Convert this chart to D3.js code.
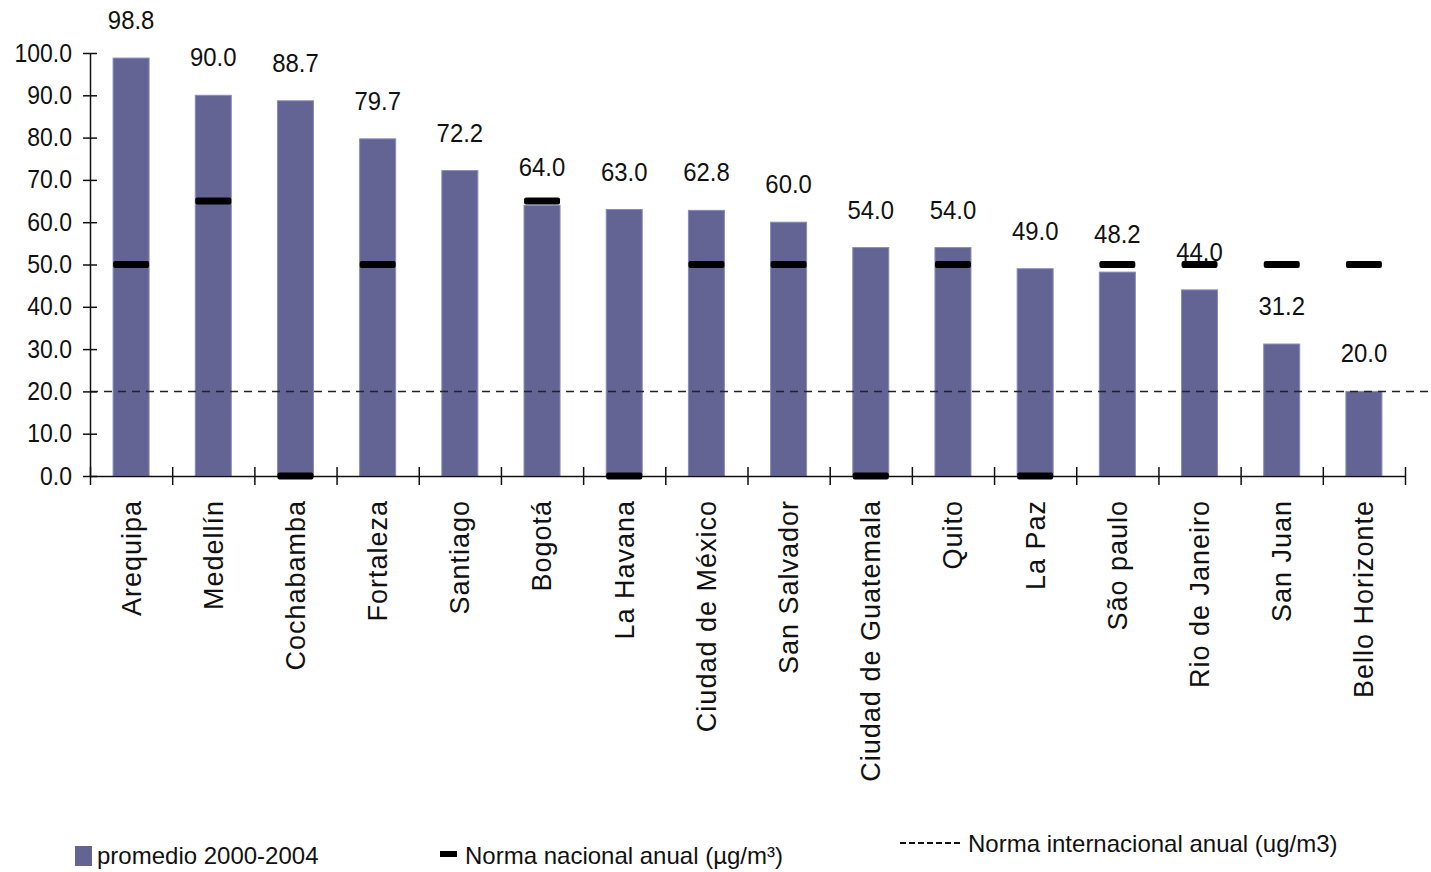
<!DOCTYPE html>
<html>
<head>
<meta charset="utf-8">
<script src="https://cdn.jsdelivr.net/npm/d3@7"></script>
<style>
  body { margin: 0; background: #fff; }
  text { font-family: "Liberation Sans", Arial, sans-serif; fill: #111; }
</style>
</head>
<body>
<div id="chart-container"></div>
<script>
// PM10 promedio por ciudad, con normas nacional e internacional
const cities = ['Arequipa', 'Medellín', 'Cochabamba', 'Fortaleza', 'Santiago', 'Bogotá', 'La Havana',
  'Ciudad de México', 'San Salvador', 'Ciudad de Guatemala', 'Quito', 'La Paz', 'São paulo',
  'Rio de Janeiro', 'San Juan', 'Bello Horizonte'];
const promedio = [98.8, 90.0, 88.7, 79.7, 72.2, 64.0, 63.0, 62.8, 60.0, 54.0, 54.0, 49.0, 48.2, 44.0, 31.2, 20.0];
const normaNacional = [50, 65, 0, 50, null, 65, 0, 50, 50, 0, 50, 0, 50, 50, 50, 50];
const normaInternacional = 20;
const yTicks = [0, 10, 20, 30, 40, 50, 60, 70, 80, 90, 100];

const data = cities.map(function (c, i) {
  return { city: c, value: promedio[i], norma: normaNacional[i] };
});

const svgWidth = 1431;
const svgHeight = 872;
const plotLeft = 90, plotRight = 1405, plotTop = 53, plotBottom = 476;
const squeeze = 0.92; // numbers in the original look a bit narrow

const svg = d3.select('#chart-container')
  .append('svg')
  .attr('width', svgWidth)
  .attr('height', svgHeight);

const xScale = d3.scaleBand()
  .domain(cities)
  .range([plotLeft, plotRight])
  .padding(0);

const yScale = d3.scaleLinear()
  .domain([0, 100])
  .range([plotBottom, plotTop]);

const barW = 36;

// bars
svg.selectAll('rect.bar')
  .data(data)
  .enter()
  .append('rect')
  .attr('class', 'bar')
  .attr('x', (d) => xScale(d.city) + (xScale.bandwidth() - barW) / 2)
  .attr('y', (d) => yScale(d.value))
  .attr('width', barW)
  .attr('height', (d) => yScale(0) - yScale(d.value))
  .attr('fill', '#636394')
  .attr('stroke', '#8a8abd')
  .attr('stroke-width', 1);

// international norm (dashed)
svg.append('line')
  .attr('x1', plotLeft)
  .attr('x2', svgWidth)
  .attr('y1', yScale(normaInternacional))
  .attr('y2', yScale(normaInternacional))
  .attr('stroke', '#222')
  .attr('stroke-width', 1.5)
  .attr('stroke-dasharray', '8,6');

// y axis
const yAxis = d3.axisLeft(yScale)
  .tickValues(yTicks)
  .tickFormat(d3.format('.1f'))
  .tickSizeInner(7)
  .tickSizeOuter(0)
  .tickPadding(11);
const gy = svg.append('g')
  .attr('transform', 'translate(' + plotLeft + ',0)')
  .call(yAxis);
gy.selectAll('.tick line').attr('x1', -7).attr('x2', 7).attr('stroke', '#111').attr('stroke-width', 1.5);
gy.select('.domain').attr('stroke', '#111').attr('stroke-width', 1.5);
gy.selectAll('.tick text')
  .attr('x', -18 / squeeze)
  .attr('transform', 'scale(' + squeeze + ',1)')
  .style('font-size', '25px')
  .style('font-family', '"Liberation Sans", Arial, sans-serif')
  .attr('fill', '#111');

// x axis with ticks at category boundaries
const xEdge = d3.scaleLinear().domain([0, cities.length]).range([plotLeft, plotRight]);
const gx = svg.append('g')
  .attr('transform', 'translate(0,' + plotBottom + ')')
  .call(d3.axisBottom(xEdge).tickValues(d3.range(cities.length + 1)).tickFormat('').tickSizeOuter(0));
gx.selectAll('.tick line').attr('y1', -9).attr('y2', 9).attr('stroke', '#111').attr('stroke-width', 1.5);
gx.select('.domain').attr('stroke', '#111').attr('stroke-width', 1.5);

// category labels
svg.selectAll('text.cat')
  .data(data)
  .enter()
  .append('text')
  .attr('class', 'cat')
  .attr('transform', (d) => 'translate(' + (xScale(d.city) + xScale.bandwidth() / 2) + ',500) rotate(-90)')
  .attr('text-anchor', 'end')
  .attr('dy', '0.35em')
  .style('font-size', '27px')
  .style('letter-spacing', '1px')
  .text((d) => d.city);

// national norm markers
svg.selectAll('rect.norma')
  .data(data.filter((d) => d.norma !== null))
  .enter()
  .append('rect')
  .attr('class', 'norma')
  .attr('x', (d) => xScale(d.city) + (xScale.bandwidth() - barW) / 2)
  .attr('y', (d) => yScale(d.norma) - 3.5)
  .attr('width', barW)
  .attr('height', 7)
  .attr('rx', 2)
  .attr('fill', '#000');

// value labels
svg.selectAll('text.label')
  .data(data)
  .enter()
  .append('text')
  .attr('class', 'label')
  .attr('transform', (d) => 'translate(' + (xScale(d.city) + xScale.bandwidth() / 2) + ',' +
    (yScale(d.value) - 29) + ') scale(' + squeeze + ',1)')
  .attr('text-anchor', 'middle')
  .style('font-size', '26px')
  .text((d) => d.value.toFixed(1));

// legend
const legend = svg.append('g');
legend.append('rect').attr('x', 75).attr('y', 846).attr('width', 17).attr('height', 20).attr('fill', '#636394');
legend.append('text').attr('x', 97).attr('y', 864).style('font-size', '24px').text('promedio 2000-2004');
legend.append('rect').attr('x', 440).attr('y', 851).attr('width', 17).attr('height', 6).attr('fill', '#000');
legend.append('text').attr('x', 465).attr('y', 864).style('font-size', '24px').text('Norma nacional anual (µg/m³)');
legend.append('line')
  .attr('x1', 900).attr('x2', 962).attr('y1', 843).attr('y2', 843)
  .attr('stroke', '#111').attr('stroke-width', 2).attr('stroke-dasharray', '6,3');
legend.append('text').attr('x', 968).attr('y', 852).style('font-size', '24px').text('Norma internacional anual (ug/m3)');
</script>
</body>
</html>
